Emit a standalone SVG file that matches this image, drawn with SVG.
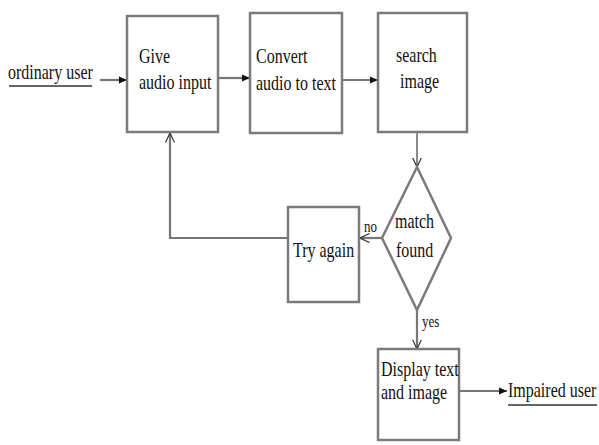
<svg xmlns="http://www.w3.org/2000/svg" width="599" height="445" viewBox="0 0 599 445">
  <defs>
    <style>
      .box { fill: #ffffff; stroke: #7b7b7b; stroke-width: 2.5; }
      .line { fill: none; stroke: #767676; stroke-width: 2.2; }
      .thin { fill: none; stroke: #5a5a5a; stroke-width: 1.4; }
      .lbl { font-family: "Liberation Serif", "Times New Roman", serif; font-size: 16px; fill: #111111; }
      .small { font-family: "Liberation Serif", "Times New Roman", serif; font-size: 13px; fill: #111111; }
    </style>
    <marker id="solid" viewBox="0 0 8 8" refX="8" refY="4" markerWidth="8" markerHeight="8" markerUnits="userSpaceOnUse" orient="auto">
      <path d="M0,0.5 L8,4 L0,7.5 z" fill="#111111"/>
    </marker>
    <marker id="open" viewBox="0 0 10 10" refX="9.5" refY="5" markerWidth="10" markerHeight="10" markerUnits="userSpaceOnUse" orient="auto">
      <path d="M0,0.5 L9.5,5 L0,9.5" fill="none" stroke="#333333" stroke-width="1.2"/>
    </marker>
  </defs>

  <rect width="599" height="445" fill="#ffffff"/>

  <!-- connectors -->
  <g id="connectors">
    <line class="line" x1="100" y1="80" x2="127" y2="80" marker-end="url(#solid)"/>
    <line class="line" x1="219" y1="78" x2="250" y2="78" marker-end="url(#solid)"/>
    <line class="line" x1="343" y1="80" x2="378" y2="80" marker-end="url(#solid)"/>
    <line class="thin" x1="417" y1="133" x2="417" y2="167" marker-end="url(#open)"/>
    <line class="line" x1="382" y1="238" x2="360" y2="238" marker-end="url(#open)"/>
    <polyline class="line" points="288,238 170,238 170,133" marker-end="url(#open)"/>
    <line class="line" x1="417" y1="310" x2="417" y2="349" marker-end="url(#open)"/>
    <line class="line" x1="460" y1="391" x2="507" y2="391" marker-end="url(#solid)"/>
    <text class="small" transform="translate(364 232) scale(1 1.3)">no</text>
    <text class="small" transform="translate(422 327) scale(1 1.3)">yes</text>
  </g>

  <!-- endpoints -->
  <g id="ordinary-user">
    <text class="lbl" transform="translate(8 79) scale(1 1.3)">ordinary user</text>
    <line x1="9" y1="86" x2="92" y2="86" stroke="#333333" stroke-width="1.3"/>
  </g>
  <g id="impaired-user">
    <text class="lbl" transform="translate(508 397) scale(1 1.3)">Impaired user</text>
    <line x1="508" y1="405" x2="597" y2="405" stroke="#333333" stroke-width="1.3"/>
  </g>

  <!-- process steps -->
  <g id="give-audio-input">
    <rect class="box" x="127" y="16" width="91" height="116"/>
    <text class="lbl" transform="translate(139 63) scale(1 1.3)">Give</text>
    <text class="lbl" transform="translate(139 89) scale(1 1.3)">audio input</text>
  </g>
  <g id="convert-audio">
    <rect class="box" x="250" y="13" width="92" height="120"/>
    <text class="lbl" transform="translate(256 63) scale(1 1.3)">Convert</text>
    <text class="lbl" transform="translate(256 90) scale(1 1.3)">audio to text</text>
  </g>
  <g id="search-image">
    <rect class="box" x="378" y="13" width="89" height="119"/>
    <text class="lbl" transform="translate(396 62) scale(1 1.3)">search</text>
    <text class="lbl" transform="translate(400 88) scale(1 1.3)">image</text>
  </g>
  <g id="match-found">
    <polygon class="box" points="417,167 451,238 417,310 382,238"/>
    <text class="lbl" transform="translate(395 228) scale(1 1.3)">match</text>
    <text class="lbl" transform="translate(396 257) scale(1 1.3)">found</text>
  </g>
  <g id="try-again">
    <rect class="box" x="288" y="207" width="71" height="95"/>
    <text class="lbl" transform="translate(293 257) scale(1 1.3)">Try again</text>
  </g>
  <g id="display-result">
    <rect class="box" x="378" y="349" width="81" height="91"/>
    <text class="lbl" transform="translate(381 376) scale(1 1.3)">Display text</text>
    <text class="lbl" transform="translate(381 399) scale(1 1.3)">and image</text>
  </g>
</svg>
